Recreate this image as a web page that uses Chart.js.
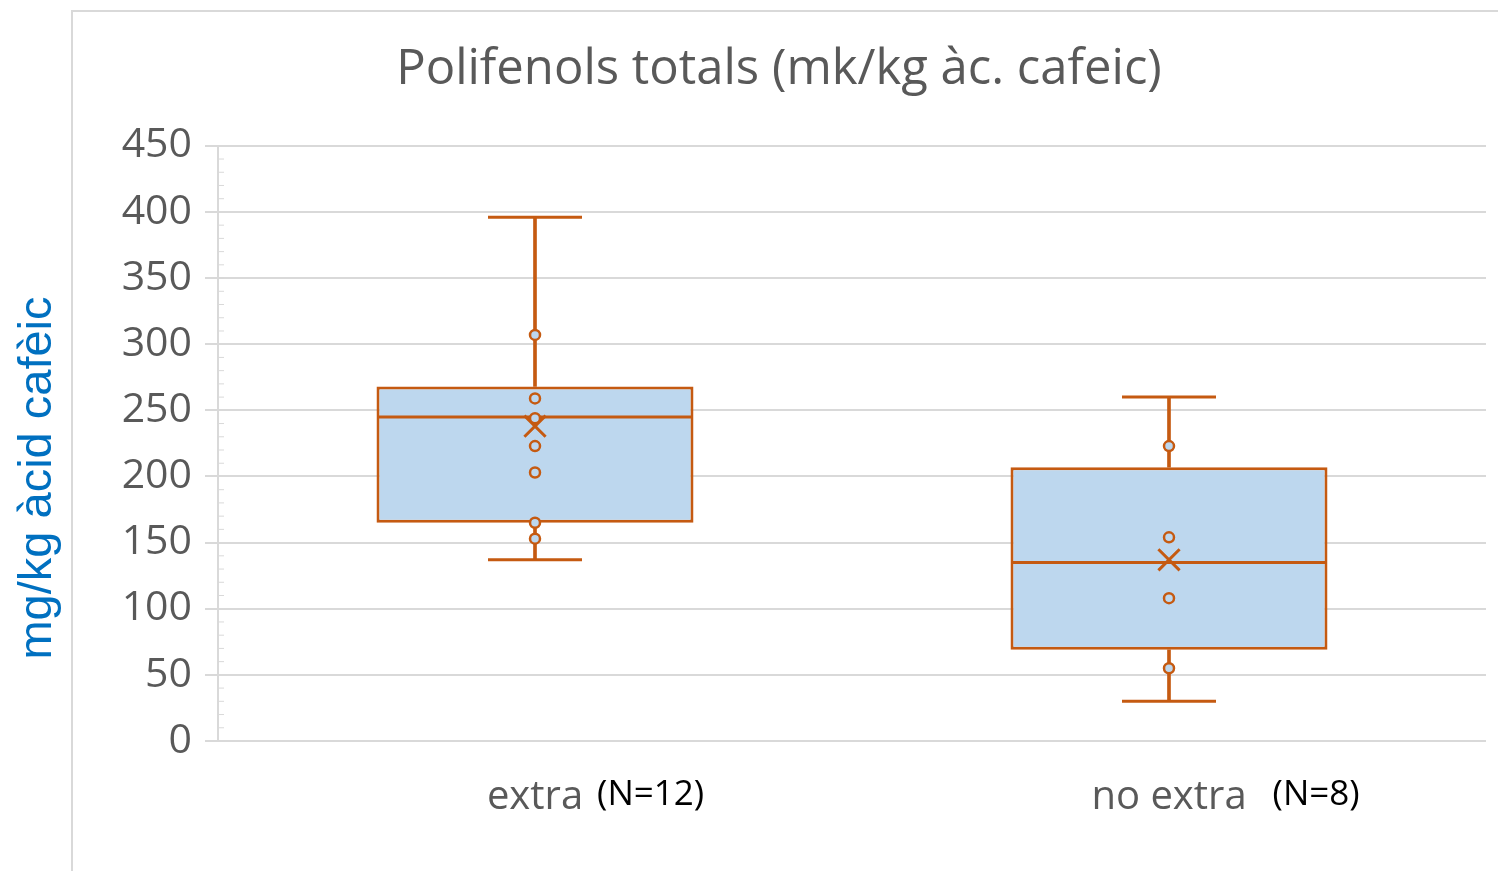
<!DOCTYPE html>
<html>
<head>
<meta charset="utf-8">
<script src="https://cdn.jsdelivr.net/npm/chart.js@4/dist/chart.umd.min.js"></script>
<style>
  html, body { margin: 0; padding: 0; background: #fff; }
  #wrap { width: 1498px; height: 871px; }
</style>
</head>
<body>
<div id="wrap"><canvas id="boxChart"></canvas></div>
<script>
// Dades llegides del gràfic
const categories = ['extra', 'no extra'];
const sampleSizes = ['(N=12)', '(N=8)'];
const q1 = [165, 69];
const q3 = [268, 207];
const medians = [245, 135];
const means = [238, 137];
const whiskerLow = [137, 30];
const whiskerHigh = [396, 260];
const innerPoints = [
  [307, 259, 244, 223, 203, 165, 153],
  [223, 154, 108, 55]
];

const orange = '#C55A11';
const boxFill = '#BDD7EE';
const grey = '#595959';
const gridColor = '#d9d9d9';

const pointsData = innerPoints.flatMap((vals, i) => vals.map(v => ({ x: categories[i], y: v })));
const capsData = categories.flatMap((c, i) => [{ x: c, y: whiskerLow[i] }, { x: c, y: whiskerHigh[i] }]);

// Marc del gràfic, subticks, títol eix Y i etiquetes N
const decorations = {
  id: 'decorations',
  beforeDraw(chart) {
    const ctx = chart.ctx;
    ctx.save();
    ctx.strokeStyle = gridColor;
    ctx.lineWidth = 2;
    ctx.beginPath();
    ctx.moveTo(72, 871);
    ctx.lineTo(72, 11);
    ctx.lineTo(1498, 11);
    ctx.stroke();
    ctx.restore();
  },
  afterDraw(chart) {
    const ctx = chart.ctx;
    const y = chart.scales.y;
    const x = chart.scales.x;
    ctx.save();
    // subticks cada 10
    ctx.strokeStyle = gridColor;
    ctx.lineWidth = 1;
    for (let v = 0; v <= 450; v += 10) {
      const py = y.getPixelForValue(v);
      ctx.beginPath();
      ctx.moveTo(chart.chartArea.left, py);
      ctx.lineTo(chart.chartArea.left + 6, py);
      ctx.stroke();
    }
    // títol eix Y
    ctx.fillStyle = '#0070C0';
    ctx.font = '47px "Liberation Sans", Arial, sans-serif';
    ctx.textAlign = 'center';
    ctx.textBaseline = 'middle';
    ctx.translate(38, 478);
    ctx.rotate(-Math.PI / 2);
    ctx.fillText('mg/kg àcid cafèic', 0, 0);
    ctx.restore();

    // (N=..) al costat de cada categoria
    ctx.save();
    ctx.font = '40px "Open Sans"';
    const gaps = [14, 26];
    categories.forEach((c, i) => {
      const w = ctx.measureText(c).width;
      const px = x.getPixelForValue(i) + w / 2 + gaps[i];
      ctx.save();
      ctx.font = '35px "Open Sans"';
      ctx.fillStyle = '#000';
      ctx.textAlign = 'left';
      ctx.textBaseline = 'middle';
      ctx.fillText(sampleSizes[i], px, 795);
      ctx.restore();
    });
    ctx.restore();
  }
};

const chart = new Chart(document.getElementById('boxChart'), {
  data: {
    labels: categories,
    datasets: [
      {
        type: 'line',
        label: 'punts',
        data: pointsData,
        showLine: false,
        pointStyle: 'circle',
        pointRadius: 5,
        pointBorderWidth: 2.5,
        pointBorderColor: orange,
        pointBackgroundColor: boxFill
      },
      {
        type: 'line',
        label: 'mitjana',
        data: categories.map((c, i) => ({ x: c, y: means[i] })),
        showLine: false,
        pointStyle: 'crossRot',
        pointRadius: 15,
        pointBorderWidth: 3,
        pointBorderColor: orange
      },
      {
        type: 'line',
        label: 'mediana',
        data: categories.map((c, i) => ({ x: c, y: medians[i] })),
        showLine: false,
        pointStyle: 'line',
        pointRadius: 158,
        pointBorderWidth: 3,
        pointBorderColor: orange
      },
      {
        type: 'line',
        label: 'extrems',
        data: capsData,
        showLine: false,
        pointStyle: 'line',
        pointRadius: 47,
        pointBorderWidth: 3,
        pointBorderColor: orange
      },
      {
        type: 'bar',
        label: 'bigoti superior',
        data: categories.map((c, i) => [q3[i], whiskerHigh[i]]),
        backgroundColor: orange,
        barThickness: 3,
        grouped: false
      },
      {
        type: 'bar',
        label: 'bigoti inferior',
        data: categories.map((c, i) => [whiskerLow[i], q1[i]]),
        backgroundColor: orange,
        barThickness: 3,
        grouped: false
      },
      {
        type: 'bar',
        label: 'caixa',
        data: categories.map((c, i) => [q1[i], q3[i]]),
        backgroundColor: boxFill,
        borderColor: orange,
        borderWidth: 3,
        borderSkipped: false,
        barPercentage: 0.5,
        categoryPercentage: 1,
        grouped: false
      }
    ]
  },
  options: {
    responsive: true,
    maintainAspectRatio: false,
    animation: false,
    layout: { autoPadding: false, padding: { left: 72, right: 12, top: 0, bottom: 49 } },
    plugins: {
      legend: { display: false },
      tooltip: { enabled: false },
      title: {
        display: true,
        text: 'Polifenols totals (mk/kg àc. cafeic)',
        color: grey,
        font: { family: 'Open Sans', size: 49, weight: 'normal' },
        padding: { top: 41, bottom: 46 }
      }
    },
    scales: {
      x: {
        type: 'category',
        offset: true,
        afterFit(scale) { scale.height = 81; },
        grid: { display: false, drawTicks: false },
        border: { display: false },
        ticks: {
          color: grey,
          padding: 33,
          font: { family: 'Open Sans', size: 40 }
        }
      },
      y: {
        min: 0,
        max: 450,
        afterFit(scale) { scale.width = 146; },
        grid: { color: gridColor, lineWidth: 2, tickLength: 13 },
        border: { display: true, color: gridColor, width: 2 },
        ticks: {
          stepSize: 50,
          color: grey,
          padding: 13,
          font: { family: 'Open Sans', size: 41 }
        }
      }
    }
  },
  plugins: [decorations]
});
</script>
</body>
</html>
